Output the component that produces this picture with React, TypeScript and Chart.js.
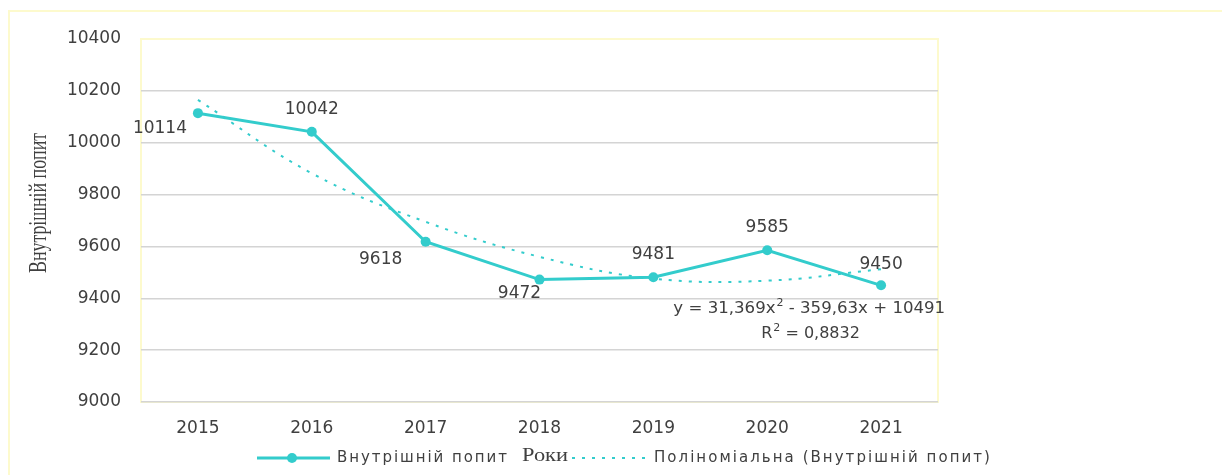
import React, { useEffect, useRef } from 'react';
import { Chart, registerables } from 'chart.js';

Chart.register(...registerables);

const years = ['2015', '2016', '2017', '2018', '2019', '2020', '2021'];
const demand = [10114, 10042, 9618, 9472, 9481, 9585, 9450];
const trendValues = [10165, 9882, 9695, 9560, 9476, 9468, 9512];
const yMin = 9000;
const yMax = 10400;
const yStep = 200;
const seriesName = 'Внутрішній попит';
const trendName = 'Поліноміальна (Внутрішній попит)';
const xTitle = 'Роки';
const yTitle = 'Внутрішній попит';
const eqPart1 = 'y = 31,369x';
const eqPart2 = ' - 359,63x + 10491';
const r2Label = 'R';
const r2Value = ' = 0,8832';

const TEAL = '#33cccc';
const TEXT = '#404040';
const GRID = '#d4d4d4';
const YELLOW = '#fdfacd';
const SANS = '"DejaVu Sans", sans-serif';
const SERIF = '"Liberation Serif", "Times New Roman", serif';

// label offsets relative to each point (px)
const labelOffsets = [
  [-38, 15], [0, -22], [-45, 18], [-20, 14], [0, -23], [0, -23], [0, -21],
];

function fitText(ctx: CanvasRenderingContext2D, text: string, x: number, y: number, width: number) {
  const n = Array.from(text).length;
  const w0 = ctx.measureText(text).width;
  const sp = n > 1 ? (width - w0) / (n - 1) : 0;
  (ctx as any).letterSpacing = sp.toFixed(2) + 'px';
  ctx.textAlign = 'left';
  ctx.fillText(text, x, y);
  (ctx as any).letterSpacing = '0px';
}

const decorPlugin = {
  id: 'decor',
  beforeDraw(chart: any) {
    const { ctx, chartArea } = chart;
    ctx.save();
    ctx.fillStyle = '#ffffff';
    ctx.fillRect(0, 0, chart.width, chart.height);
    ctx.strokeStyle = YELLOW;
    ctx.lineWidth = 2;
    ctx.strokeRect(9, 11, chart.width + 20, chart.height + 20);
    ctx.strokeRect(chartArea.left, chartArea.top, chartArea.right - chartArea.left, chartArea.bottom - chartArea.top);
    ctx.restore();
  },
  afterDraw(chart: any) {
    const { ctx, chartArea } = chart;
    const xs = chart.scales.x;
    const meta = chart.getDatasetMeta(0);
    ctx.save();
    // data labels
    ctx.fillStyle = TEXT;
    ctx.font = `17px ${SANS}`;
    ctx.textAlign = 'center';
    ctx.textBaseline = 'middle';
    meta.data.forEach((pt: any, i: number) => {
      const [dx, dy] = labelOffsets[i];
      ctx.fillText(String(demand[i]), pt.x + dx, pt.y + dy);
    });

    // trendline equation
    ctx.font = `16.6px ${SANS}`;
    ctx.textAlign = 'left';
    let ex = xs.getPixelForValue(4) + 20;
    const ey = chartArea.bottom - 93;
    ctx.fillText(eqPart1, ex, ey);
    ex += ctx.measureText(eqPart1).width;
    ctx.font = `11px ${SANS}`;
    ctx.fillText('2', ex + 1, ey - 6);
    ex += ctx.measureText('2').width + 1;
    ctx.font = `16.6px ${SANS}`;
    ctx.fillText(eqPart2, ex, ey);

    ctx.font = `16px ${SANS}`;
    let rx = xs.getPixelForValue(5) - 6;
    const ry = chartArea.bottom - 68;
    ctx.fillText(r2Label, rx, ry);
    rx += ctx.measureText(r2Label).width;
    ctx.font = `11px ${SANS}`;
    ctx.fillText('2', rx + 1, ry - 6);
    rx += ctx.measureText('2').width + 1;
    ctx.font = `16px ${SANS}`;
    ctx.fillText(r2Value, rx, ry);

    // y-axis title
    ctx.save();
    ctx.translate(39, 203);
    ctx.rotate(-Math.PI / 2);
    ctx.font = `25px ${SERIF}`;
    const tw = ctx.measureText(yTitle).width;
    ctx.scale(140 / tw, 1);
    ctx.textAlign = 'center';
    ctx.textBaseline = 'middle';
    ctx.fillStyle = TEXT;
    ctx.fillText(yTitle, 0, 0);
    ctx.restore();

    // legend
    const ly = 458;
    ctx.strokeStyle = TEAL;
    ctx.lineWidth = 3;
    ctx.beginPath();
    ctx.moveTo(257, ly);
    ctx.lineTo(330, ly);
    ctx.stroke();
    ctx.fillStyle = TEAL;
    ctx.beginPath();
    ctx.arc(292, ly, 5, 0, Math.PI * 2);
    ctx.fill();

    ctx.fillStyle = TEXT;
    ctx.textBaseline = 'middle';
    ctx.font = `15px ${SANS}`;
    fitText(ctx, seriesName, 337, ly, 170);

    ctx.lineWidth = 2;
    ctx.setLineDash([3, 7]);
    ctx.beginPath();
    ctx.moveTo(572, ly);
    ctx.lineTo(645, ly);
    ctx.stroke();
    ctx.setLineDash([]);

    ctx.font = `15px ${SANS}`;
    fitText(ctx, trendName, 654, ly, 336);

    // x-axis title
    ctx.save();
    ctx.font = `19px ${SERIF}`;
    const xw = ctx.measureText(xTitle).width;
    ctx.translate(522, 461);
    ctx.scale(46 / xw, 1);
    ctx.textAlign = 'left';
    ctx.textBaseline = 'alphabetic';
    ctx.fillStyle = TEXT;
    ctx.fillText(xTitle, 0, 0);
    ctx.restore();

    ctx.restore();
  },
};

export default function App() {
  const ref = useRef<HTMLCanvasElement>(null);
  useEffect(() => {
    if (!ref.current) return;
    const chart = new Chart(ref.current, {
      type: 'line',
      data: {
        labels: years,
        datasets: [
          {
            label: seriesName,
            data: demand,
            borderColor: TEAL,
            backgroundColor: TEAL,
            borderWidth: 3,
            pointRadius: 5,
            pointBackgroundColor: TEAL,
            pointBorderColor: TEAL,
            pointBorderWidth: 0,
            tension: 0,
            order: 1,
          },
          {
            label: trendName,
            data: trendValues,
            borderColor: TEAL,
            borderWidth: 2,
            borderDash: [3, 7],
            pointRadius: 0,
            tension: 0.4,
            order: 2,
          },
        ],
      },
      options: {
        responsive: false,
        animation: false,
        devicePixelRatio: 1,
        layout: { padding: { left: 0, top: 39, right: 284, bottom: 0 } },
        plugins: {
          legend: { display: false },
          tooltip: { enabled: false },
          title: { display: false },
        },
        scales: {
          x: {
            offset: true,
            grid: { display: false, drawTicks: false },
            border: { display: false },
            ticks: { color: TEXT, font: { family: SANS, size: 17 }, padding: 16 },
            afterFit: (s: any) => { s.height = 73; },
          },
          y: {
            min: yMin,
            max: yMax,
            ticks: {
              stepSize: yStep,
              color: TEXT,
              font: { family: SANS, size: 17 },
              padding: 20,
              callback: (v: any) => String(v),
            },
            grid: {
              drawTicks: false,
              lineWidth: 1.5,
              color: (c: any) => (c.tick && c.tick.value === yMax ? 'rgba(0,0,0,0)' : GRID),
            },
            border: { display: false },
            afterFit: (s: any) => { s.width = 141; },
          },
        },
      },
      plugins: [decorPlugin],
    });
    return () => chart.destroy();
  }, []);
  return (
    <div style={{ position: 'fixed', left: 0, top: 0, width: 1222, height: 475, background: '#fff' }}>
      <canvas ref={ref} width={1222} height={475} />
    </div>
  );
}
